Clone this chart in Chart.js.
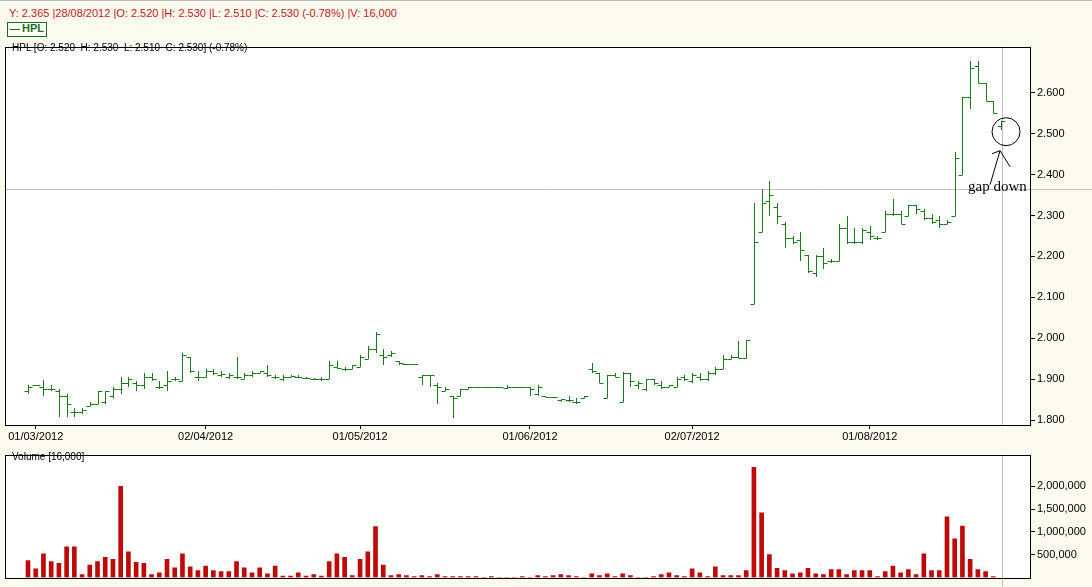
<!DOCTYPE html>
<html><head><meta charset="utf-8">
<script src="https://cdn.jsdelivr.net/npm/chart.js@4.4.0/dist/chart.umd.min.js"></script>
<style>
body{margin:0;background:#FBFAEF;width:1092px;height:587px;overflow:hidden;position:relative;font-family:"Liberation Sans",Arial,sans-serif;}
#top{position:absolute;left:0;top:0;width:1092px;height:3px;border-top:1px solid #bbb;}
.t{position:absolute;white-space:pre;font-size:11px;}
canvas{position:absolute;left:0;}
</style></head><body>
<div id="top"></div>
<div class="t" style="left:9px;top:7px;color:#C0201A;">Y: 2.365 |28/08/2012 |O: 2.520 |H: 2.530 |L: 2.510 |C: 2.530 (-0.78%) |V: 16,000</div>
<div style="position:absolute;left:7px;top:22px;width:38px;height:13px;border:1px solid #1b6e1b;background:#fff;"></div>
<div style="position:absolute;left:10px;top:29px;width:10px;height:1px;background:#1b6e1b;"></div>
<div class="t" style="left:22px;top:22px;color:#1b6e1b;font-weight:bold;font-size:11px;">HPL</div>
<canvas id="pc" width="1092" height="408" style="top:38px"></canvas>
<canvas id="vc" width="1092" height="140" style="top:446px"></canvas>
<div class="t" style="left:12px;top:42px;color:#000;font-size:10px;">HPL [O: 2.520  H: 2.530  L: 2.510  C: 2.530] (-0.78%)</div>
<div class="t" style="left:12px;top:451px;color:#000;font-size:10px;">Volume [16,000]</div>
<div class="t" style="left:968px;top:178px;color:#000;font-size:15px;font-family:'Liberation Serif','DejaVu Serif',serif;">gap down</div>
<script>
const openP=[1.870,1.887,1.880,1.877,1.870,1.860,1.820,1.820,1.835,1.840,1.845,1.860,1.875,1.890,1.890,1.885,1.905,1.880,1.885,1.900,
1.895,1.955,1.905,1.905,1.920,1.910,1.905,1.905,1.900,1.910,1.915,1.915,1.905,1.900,1.905,1.905,1.902,1.900,1.900,1.900,1.930,1.925,1.925,
1.930,1.950,1.975,1.960,1.960,1.945,1.937,1.937,1.905,1.910,1.885,1.870,1.860,1.860,1.875,1.880,1.880,1.882,1.880,1.878,1.880,1.880,
1.880,1.865,1.860,1.856,1.850,1.850,1.845,1.855,1.925,1.915,1.855,1.910,1.845,1.915,1.885,1.875,1.900,1.885,1.880,1.880,1.905,
1.895,1.905,1.900,1.915,1.925,1.950,1.955,1.952,2.085,2.260,2.335,2.320,2.280,2.245,2.240,2.204,2.160,2.200,2.190,2.190,2.270,2.235,2.235,2.260,2.245,
2.260,2.305,2.305,2.300,2.325,2.310,2.295,2.290,2.280,2.300,2.400,2.590,2.665,2.625,2.580,2.520];
const highP=[1.885,1.887,1.897,1.885,1.877,1.865,1.830,1.830,1.845,1.872,1.872,1.880,1.905,1.905,1.895,1.915,1.915,1.895,1.920,1.905,
1.965,1.955,1.920,1.925,1.925,1.920,1.915,1.955,1.915,1.920,1.920,1.935,1.910,1.910,1.910,1.910,1.905,1.902,1.905,1.945,1.945,1.930,1.935,
1.960,1.980,2.015,1.975,1.970,1.945,1.937,1.937,1.910,1.910,1.890,1.880,1.860,1.875,1.880,1.880,1.882,1.882,1.880,1.885,1.882,1.880,
1.880,1.885,1.860,1.856,1.852,1.860,1.855,1.860,1.940,1.915,1.910,1.915,1.917,1.915,1.895,1.900,1.900,1.895,1.885,1.905,1.910,
1.915,1.915,1.920,1.930,1.960,1.958,1.993,1.995,2.330,2.365,2.385,2.330,2.285,2.250,2.260,2.204,2.204,2.220,2.195,2.280,2.300,2.270,2.270,2.275,2.250,
2.310,2.340,2.310,2.325,2.325,2.315,2.305,2.300,2.290,2.456,2.590,2.677,2.677,2.625,2.580,2.530];
const lowP=[1.865,1.887,1.860,1.870,1.807,1.807,1.807,1.815,1.835,1.840,1.840,1.855,1.865,1.880,1.872,1.875,1.895,1.875,1.870,1.895,
1.895,1.915,1.895,1.905,1.910,1.905,1.900,1.900,1.900,1.905,1.915,1.905,1.900,1.895,1.905,1.902,1.900,1.898,1.895,1.900,1.925,1.920,1.925,
1.930,1.950,1.965,1.935,1.955,1.935,1.937,1.937,1.885,1.880,1.840,1.870,1.805,1.860,1.875,1.880,1.880,1.882,1.880,1.875,1.878,1.880,
1.860,1.860,1.856,1.856,1.845,1.845,1.840,1.855,1.915,1.890,1.855,1.905,1.844,1.880,1.875,1.870,1.885,1.875,1.880,1.880,1.895,
1.890,1.895,1.895,1.910,1.925,1.950,1.952,1.952,2.084,2.260,2.300,2.280,2.220,2.230,2.190,2.160,2.150,2.170,2.185,2.190,2.230,2.230,2.230,2.240,2.240,
2.260,2.300,2.280,2.300,2.305,2.290,2.280,2.270,2.280,2.300,2.400,2.560,2.625,2.580,2.550,2.510];
const closeP=[1.880,1.887,1.877,1.877,1.860,1.840,1.820,1.825,1.840,1.870,1.870,1.875,1.890,1.900,1.885,1.905,1.900,1.882,1.895,1.900,
1.960,1.920,1.905,1.920,1.915,1.912,1.910,1.905,1.910,1.915,1.920,1.910,1.905,1.905,1.908,1.905,1.902,1.900,1.900,1.935,1.928,1.925,1.935,
1.955,1.975,2.010,1.955,1.965,1.940,1.937,1.937,1.910,1.910,1.880,1.875,1.855,1.875,1.880,1.880,1.882,1.882,1.880,1.880,1.880,1.880,
1.875,1.880,1.856,1.856,1.852,1.850,1.845,1.860,1.920,1.890,1.910,1.905,1.915,1.895,1.890,1.900,1.890,1.880,1.885,1.900,1.900,
1.910,1.900,1.915,1.925,1.950,1.955,1.952,1.995,2.235,2.330,2.350,2.300,2.245,2.235,2.215,2.165,2.200,2.185,2.190,2.270,2.235,2.235,2.265,2.250,2.245,
2.305,2.305,2.280,2.325,2.315,2.295,2.285,2.280,2.285,2.440,2.590,2.660,2.625,2.580,2.550,2.530];
const volumeM=[0.37,0.19,0.52,0.35,0.31,0.67,0.67,0.06,0.27,0.35,0.44,0.40,2.00,0.56,0.33,0.31,0.06,0.10,0.40,0.21,0.52,0.23,0.15,0.25,0.15,0.13,0.13,0.35,0.21,0.10,0.21,0.08,0.25,0.03,0.03,0.10,0.03,0.06,0.03,0.35,0.52,0.44,0.04,0.40,0.56,1.12,
0.27,0.04,0.06,0.04,0.02,0.04,0.02,0.06,0.02,0.02,0.02,0.02,0.02,0,0.02,0,0,0,0.02,0,0.04,0.02,0.04,0.06,0.04,0.02,0,0.08,0.04,0.08,0.02,0.08,0.04,0,0,0.02,0.06,0.10,0.04,0.02,0.19,0.10,0.02,0.23,0.04,0.04,0.04,0.15,
2.42,1.42,0.50,0.20,0.15,0.08,0.10,0.20,0.08,0.06,0.17,0.17,0.06,0.15,0.15,0.15,0.02,0.13,0.25,0.10,0.17,0.06,0.52,0.15,0.15,1.33,0.85,1.13,0.40,0.17,0.13,0.02];
const tickIdx=[1,23,43,65,86,109];
const tickLabels=['01/03/2012','02/04/2012','01/05/2012','01/06/2012','02/07/2012','01/08/2012'];
const crossPrice=2.365;

const green='#1b7a1b', red='#BF0A0A';
const n=closeP.length;
const XMIN=-2.98, XMAX=n-1+3.75;
const font={family:'Liberation Sans, Arial',size:11};

const frame={id:'frame',afterDraw(c){const a=c.chartArea,x=c.ctx;x.save();x.strokeStyle='#000';x.lineWidth=1;x.strokeRect(Math.round(a.left)+0.5,Math.round(a.top)+0.5,Math.round(a.right-a.left),Math.round(a.bottom-a.top));x.restore();}};
const bgWhite={id:'bgw',beforeDraw(c){const a=c.chartArea;c.ctx.save();c.ctx.fillStyle='#fff';c.ctx.fillRect(a.left,a.top,a.right-a.left,a.bottom-a.top);c.ctx.restore();}};

const ohlc={id:'ohlc',afterDatasetsDraw(c){
  const x=c.ctx,xs=c.scales.x,ys=c.scales.y,a=c.chartArea;
  x.save();
  x.strokeStyle='#c0c0c0';x.lineWidth=1;
  const cy=Math.round(ys.getPixelForValue(crossPrice))+0.5;
  x.beginPath();x.moveTo(a.left,cy);x.lineTo(c.width,cy);
  const cx=Math.round(xs.getPixelForValue(n-1))+1.5;
  x.moveTo(cx,a.top);x.lineTo(cx,a.bottom);x.stroke();
  x.strokeStyle=green;
  for(let i=0;i<n;i++){
    const px=Math.round(xs.getPixelForValue(i))+0.5;
    const yh=ys.getPixelForValue(highP[i]),yl=ys.getPixelForValue(lowP[i]);
    const yo=Math.round(ys.getPixelForValue(openP[i]))+0.5,yc=Math.round(ys.getPixelForValue(closeP[i]))+0.5;
    x.beginPath();
    x.moveTo(px,Math.round(yh));x.lineTo(px,Math.max(Math.round(yl),Math.round(yh)+1));
    x.moveTo(px-4,yo);x.lineTo(px,yo);
    x.moveTo(px,yc);x.lineTo(px+4,yc);
    x.stroke();
  }
  const ax=xs.getPixelForValue(n-1)+5, ay=ys.getPixelForValue(2.505);
  x.strokeStyle='#000';
  x.beginPath();x.arc(ax,ay,14,0,Math.PI*2);x.stroke();
  const tipX=ax-6,tipY=ay+19;
  x.beginPath();x.moveTo(tipX,tipY);x.lineTo(tipX-10,tipY+34);
  x.moveTo(tipX,tipY);x.lineTo(tipX+10,tipY+16);
  x.moveTo(tipX,tipY);x.lineTo(tipX-8,tipY+3);
  x.stroke();
  x.restore();
}};

new Chart(document.getElementById('pc'),{
  type:'scatter',
  data:{datasets:[{data:closeP.map((v,i)=>({x:i,y:v})),pointRadius:0,showLine:false}]},
  options:{responsive:false,animation:false,devicePixelRatio:1,
    layout:{padding:{left:5,top:-5,right:0,bottom:0}},
    plugins:{legend:{display:false},tooltip:{enabled:false}},
    scales:{
      x:{type:'linear',min:XMIN,max:XMAX,
        afterBuildTicks(s){s.ticks=tickIdx.map(v=>({value:v}));},
        afterFit(s){s.height=21;},
        ticks:{autoSkip:false,maxRotation:0,color:'#000',font,padding:1,callback(v){const k=tickIdx.indexOf(v);return k>=0?tickLabels[k]:'';}},
        grid:{drawOnChartArea:false,tickLength:4,color:'#000'},border:{display:false}},
      y:{position:'right',min:1.788,max:2.713,
        afterBuildTicks(s){s.ticks=[1.8,1.9,2.0,2.1,2.2,2.3,2.4,2.5,2.6].map(v=>({value:v}));},
        afterFit(s){s.width=62;},
        ticks:{color:'#000',font,padding:2,callback(v){return v.toFixed(3);}},
        grid:{drawOnChartArea:false,tickLength:5,color:'#000'},border:{display:false}}
    }},
  plugins:[bgWhite,ohlc,frame]
});

const vline={id:'vline',afterDatasetsDraw(c){const x=c.ctx,xs=c.scales.x,a=c.chartArea;x.save();x.strokeStyle='#c0c0c0';const cx=Math.round(xs.getPixelForValue(n-1))+1.5;x.beginPath();x.moveTo(cx,a.top);x.lineTo(cx,c.height);x.stroke();x.restore();}};
new Chart(document.getElementById('vc'),{
  type:'bar',
  data:{datasets:[{data:volumeM.map((v,i)=>({x:i,y:v*1e6})),backgroundColor:red,barThickness:4}]},
  options:{responsive:false,animation:false,devicePixelRatio:1,
    layout:{padding:{left:5,top:-5,right:0,bottom:0}},
    plugins:{legend:{display:false},tooltip:{enabled:false}},
    scales:{
      x:{type:'linear',min:XMIN,max:XMAX,offset:false,afterFit(s){s.height=8;},ticks:{display:false},grid:{display:false},border:{display:false}},
      y:{position:'right',min:0,max:2700000,
        afterBuildTicks(s){s.ticks=[500000,1000000,1500000,2000000].map(v=>({value:v}));},
        afterFit(s){s.width=62;},
        ticks:{color:'#000',font,padding:2,callback(v){return v.toLocaleString('en-US');}},
        grid:{drawOnChartArea:false,tickLength:5,color:'#000'},border:{display:false}}
    }},
  plugins:[bgWhite,vline,frame]
});
</script></body></html>
